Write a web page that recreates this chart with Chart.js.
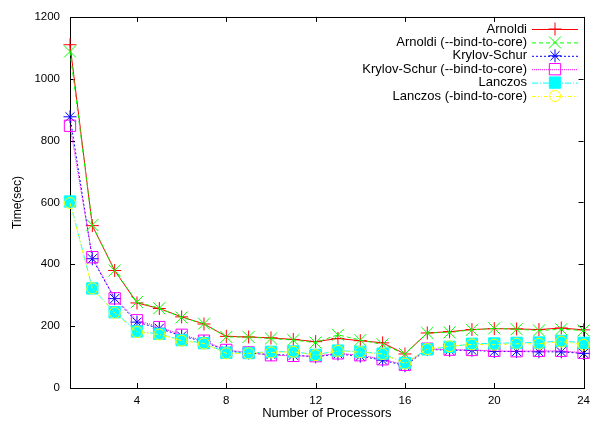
<!DOCTYPE html>
<html>
<head>
<meta charset="utf-8">
<script src="https://cdn.jsdelivr.net/npm/chart.js@4/dist/chart.umd.min.js"></script>
<style>
  html, body { margin: 0; padding: 0; background: #fff; }
  #wrap { width: 596px; height: 423px; }
</style>
</head>
<body>
<div id="wrap"><canvas id="timeChart" width="596" height="423"></canvas></div>
<script>
// Data
const procs = [1, 2, 3, 4, 5, 6, 7, 8, 9, 10, 11, 12, 13, 14, 15, 16, 17, 18, 19, 20, 21, 22, 23, 24];
const arnoldi     = [1110, 525, 380, 275, 257, 230, 207, 167, 165, 162, 157, 150, 160, 153, 146, 110, 178, 182, 189, 192, 191, 189, 194, 188];
const arnoldiBind = [1088, 527, 380, 278, 258, 228, 208, 165, 165, 160, 155, 147, 172, 155, 141, 110, 178, 180, 188, 193, 190, 186, 190, 186];
const krylov      = [877, 418, 289, 213, 193, 168, 150, 120, 113, 108, 106, 101, 110, 103, 90, 72, 125, 122, 122, 118, 118, 117, 117, 112];
const krylovBind  = [848, 423, 290, 219, 197, 172, 153, 123, 115, 106, 104, 103, 112, 106, 93, 75, 127, 124, 123, 120, 119, 120, 120, 114];
const lanczos     = [603, 322, 245, 183, 175, 155, 145, 114, 113, 117, 118, 107, 121, 117, 111, 81, 125, 133, 143, 144, 146, 147, 152, 146];
const lanczosBind = [598, 322, 243, 181, 173, 153, 144, 112, 112, 115, 117, 106, 120, 116, 110, 79, 126, 135, 141, 140, 143, 143, 150, 140];

const xTicks = [4, 8, 12, 16, 20, 24];
const yTicks = [0, 200, 400, 600, 800, 1000, 1200];

const FONT = '"Liberation Sans", Arial, sans-serif';

const toPoints = arr => procs.map((p, i) => ({ x: p, y: arr[i] }));

const series = [
    { label: 'Arnoldi', data: arnoldi, color: '#ff0000', dash: [], style: 'cross', r: 6.5, fill: false },
    { label: 'Arnoldi (--bind-to-core)', data: arnoldiBind, color: '#00ff00', dash: [4, 3], style: 'crossRot', r: 8.5, fill: false },
    { label: 'Krylov-Schur', data: krylov, color: '#0000ff', dash: [2, 2], style: 'star', r: 6.5, fill: false },
    { label: 'Krylov-Schur (--bind-to-core)', data: krylovBind, color: '#ff00ff', dash: [1, 1], style: 'rect', r: 8, fill: false },
    { label: 'Lanczos', data: lanczos, color: '#00ffff', dash: [6, 2, 1, 2], style: 'rect', r: 8, fill: true },
    { label: 'Lanczos (-bind-to-core)', data: lanczosBind, color: '#ffff00', dash: [4, 2, 1, 2, 1, 2], style: 'circle', r: 5.5, fill: false }
];

const datasets = series.map((s, i) => ({
    label: s.label,
    data: toPoints(s.data),
    borderColor: s.color,
    backgroundColor: s.fill ? s.color : 'rgba(0,0,0,0)',
    borderWidth: 1,
    borderDash: s.dash,
    pointStyle: s.style,
    pointRadius: s.r,
    pointHoverRadius: s.r,
    pointBorderWidth: 1,
    pointBorderColor: s.color,
    pointBackgroundColor: s.fill ? s.color : 'rgba(0,0,0,0)',
    tension: 0,
    clip: false,
    order: series.length - i
}));

// Frame and inward ticks on all four sides, gnuplot style
const framePlugin = {
    id: 'frame',
    beforeDatasetsDraw(chart) {
        const { ctx, chartArea: a, scales } = chart;
        const len = 5;
        ctx.save();
        ctx.strokeStyle = '#000';
        ctx.lineWidth = 1;
        ctx.setLineDash([]);
        ctx.beginPath();
        xTicks.forEach(v => {
            const px = Math.round(scales.x.getPixelForValue(v)) + 0.5;
            ctx.moveTo(px, a.bottom); ctx.lineTo(px, a.bottom - len);
            ctx.moveTo(px, a.top); ctx.lineTo(px, a.top + len);
        });
        yTicks.forEach(v => {
            const py = Math.round(scales.y.getPixelForValue(v)) + 0.5;
            ctx.moveTo(a.left, py); ctx.lineTo(a.left + len, py);
            ctx.moveTo(a.right, py); ctx.lineTo(a.right - len, py);
        });
        ctx.stroke();
        ctx.strokeRect(Math.round(a.left) + 0.5, Math.round(a.top) + 0.5,
            Math.round(a.right - a.left), Math.round(a.bottom - a.top));
        ctx.restore();
    }
};

// Legend inside the top right corner: right-aligned text, line sample and marker
const keyPlugin = {
    id: 'key',
    afterDraw(chart) {
        const { ctx } = chart;
        const textRight = 527, lineL = 532, lineR = 578, top = 29, step = 13.4;
        ctx.save();
        ctx.font = '13px ' + FONT;
        ctx.textAlign = 'right';
        ctx.textBaseline = 'middle';
        chart.data.datasets.forEach((ds, i) => {
            const y = top + i * step;
            ctx.fillStyle = '#000';
            ctx.fillText(ds.label, textRight, y);
            ctx.strokeStyle = ds.borderColor;
            ctx.lineWidth = 1;
            ctx.setLineDash(ds.borderDash);
            ctx.beginPath();
            ctx.moveTo(lineL, y + 0.5);
            ctx.lineTo(lineR, y + 0.5);
            ctx.stroke();
            ctx.setLineDash([]);
            ctx.fillStyle = ds.pointBackgroundColor;
            Chart.helpers.drawPoint(ctx, {
                pointStyle: ds.pointStyle,
                radius: ds.pointRadius,
                rotation: 0,
                borderWidth: 1
            }, (lineL + lineR) / 2, y);
        });
        ctx.restore();
    }
};

const ctx = document.getElementById('timeChart').getContext('2d');
const timeChart = new Chart(ctx, {
    type: 'line',
    data: { datasets },
    plugins: [framePlugin, keyPlugin],
    options: {
        responsive: false,
        animation: false,
        events: [],
        layout: { padding: { left: 0, right: 7, top: 16, bottom: 0 } },
        plugins: {
            legend: { display: false },
            title: { display: false },
            tooltip: { enabled: false }
        },
        scales: {
            x: {
                type: 'linear',
                min: 1,
                max: 24,
                afterBuildTicks: scale => { scale.ticks = xTicks.map(v => ({ value: v })); },
                afterFit: scale => { scale.height = 35; },
                grid: { display: false, drawTicks: false },
                border: { display: false },
                ticks: { color: '#000', padding: 6, maxRotation: 0, font: { family: FONT, size: 11.5 }, callback: v => String(v) },
                title: {
                    display: true,
                    text: 'Number of Processors',
                    color: '#000',
                    font: { family: FONT, size: 13 },
                    padding: { top: 0, bottom: 2 }
                }
            },
            y: {
                min: 0,
                max: 1200,
                afterBuildTicks: scale => { scale.ticks = yTicks.map(v => ({ value: v })); },
                afterFit: scale => { scale.width = 70; },
                grid: { display: false, drawTicks: false },
                border: { display: false },
                ticks: { color: '#000', padding: 10, font: { family: FONT, size: 11.5 }, callback: v => String(v) },
                title: {
                    display: true,
                    text: 'Time(sec)',
                    color: '#000',
                    font: { family: FONT, size: 12 },
                    padding: { top: 10, bottom: 0 }
                }
            }
        }
    }
});
</script>
</body>
</html>
